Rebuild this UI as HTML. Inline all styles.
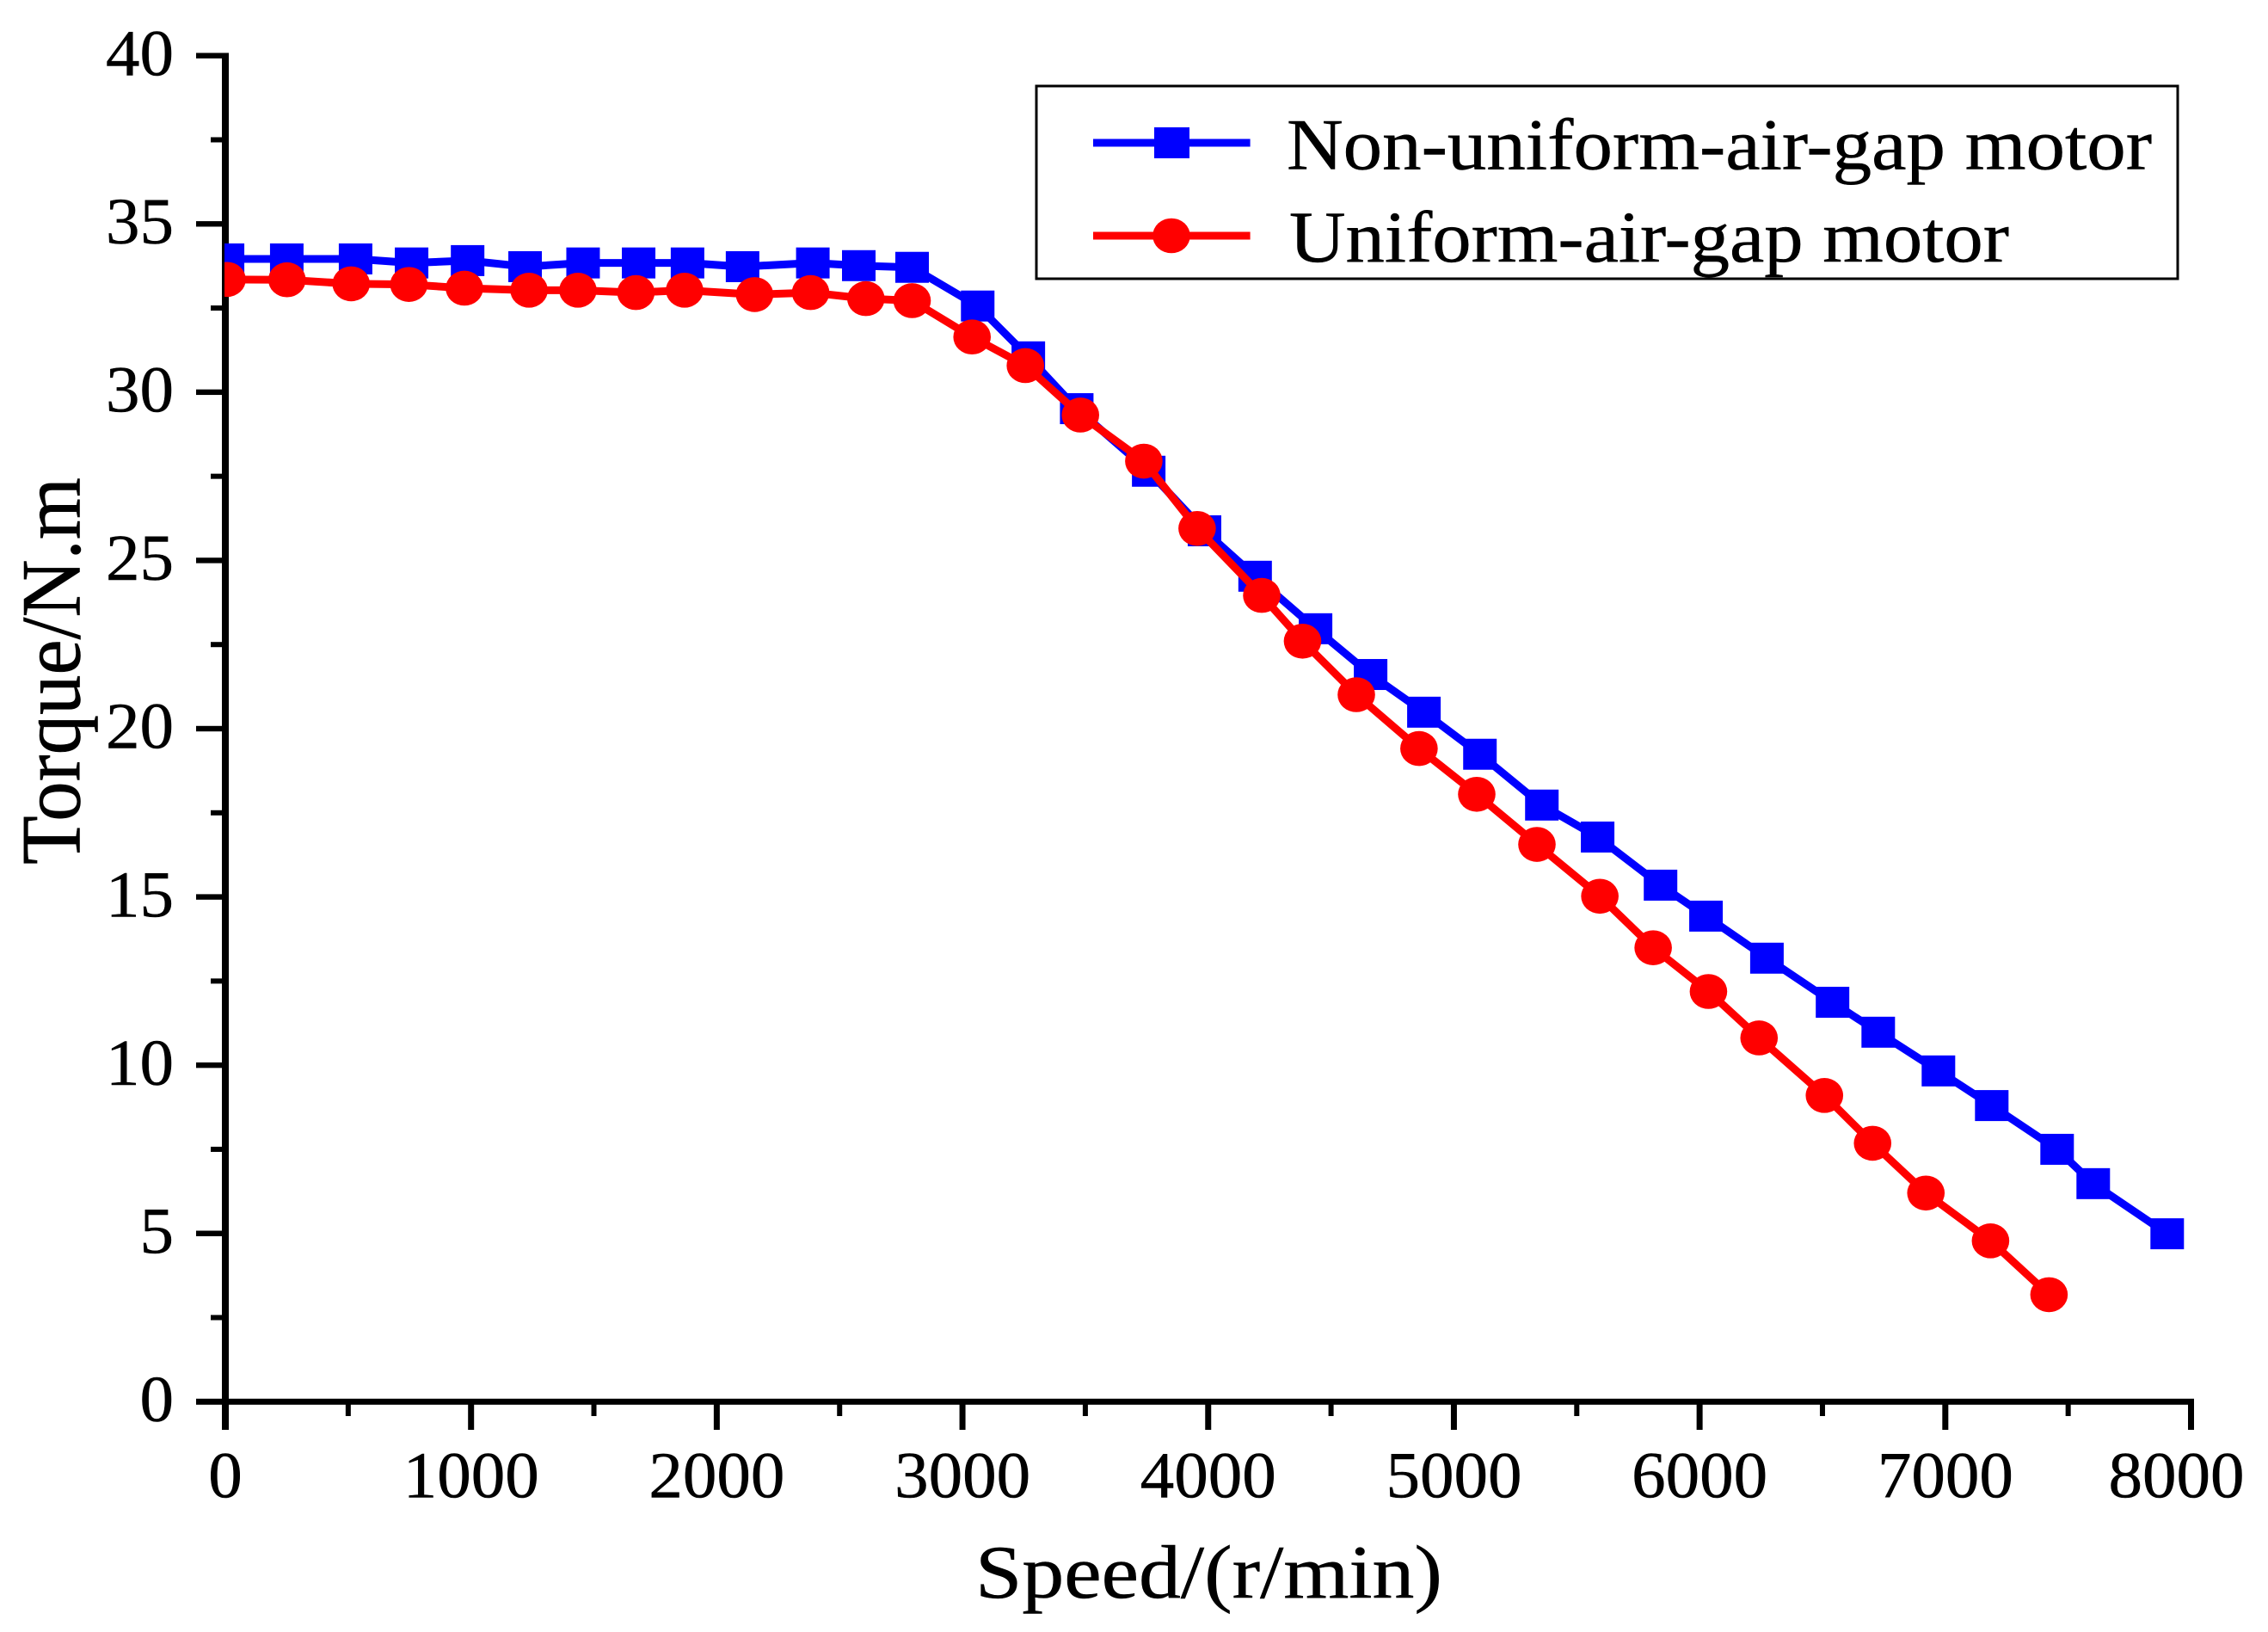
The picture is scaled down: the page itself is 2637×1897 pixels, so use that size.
<!DOCTYPE html>
<html lang="en">
<head>
<meta charset="utf-8">
<title>Torque vs Speed</title>
<style>
html,body{margin:0;padding:0;background:#fff;}
body{width:2637px;height:1897px;overflow:hidden;}
svg{display:block;}
text{font-family:"Liberation Serif","Times New Roman",serif;fill:#000;stroke:#000;stroke-width:0.5px;}
</style>
</head>
<body>
<svg id="chart" xmlns="http://www.w3.org/2000/svg" width="2637" height="1897" viewBox="0 0 2637 1897">
  <defs>
    <clipPath id="plot-clip"><rect x="261" y="0" width="2376" height="1897"/></clipPath>
  </defs>
  <rect x="0" y="0" width="2637" height="1897" fill="#fff"/>
  <g id="axes"></g>
  <g id="series" clip-path="url(#plot-clip)"></g>

  <text x="1134" y="1857" font-size="88" textLength="543" lengthAdjust="spacingAndGlyphs">Speed/(r/min)</text>
  <text transform="translate(92.7,1005) rotate(-90) scale(1,1.1)" font-size="90" textLength="450" lengthAdjust="spacingAndGlyphs">Torque/N.m</text>

  <g>
    <rect x="1205" y="100" width="1327" height="224" fill="#fff" stroke="#000" stroke-width="3"/>
    <g>
      <line x1="1271" y1="166" x2="1453.6" y2="166" stroke="#0000ff" stroke-width="9"/>
      <rect x="1342" y="148" width="41" height="36" fill="#0000ff"/>
      <text x="1496" y="196.5" font-size="85" textLength="1006" lengthAdjust="spacingAndGlyphs">Non-uniform-air-gap motor</text>
    </g>
    <g>
      <line x1="1271" y1="274" x2="1453.6" y2="274" stroke="#ff0000" stroke-width="9"/>
      <ellipse cx="1362" cy="274" rx="21.8" ry="20.3" fill="#ff0000"/>
      <text x="1499" y="304" font-size="85" textLength="837" lengthAdjust="spacingAndGlyphs">Uniform-air-gap motor</text>
    </g>
  </g>
</svg>
<script>
const xTickLabels = [0, 1000, 2000, 3000, 4000, 5000, 6000, 7000, 8000];
const yTickLabels = [0, 5, 10, 15, 20, 25, 30, 35, 40];

const nonUniformSpeed = [9, 250, 530, 758, 986, 1220, 1456, 1682, 1881, 2105, 2391, 2578, 2795, 3062, 3268, 3465, 3758, 3985, 4191, 4437, 4661, 4878, 5106, 5358, 5585, 5841, 6026, 6274, 6541, 6727, 6972, 7189, 7455, 7602, 7903];
const nonUniformTorque = [33.96, 33.96, 33.96, 33.84, 33.91, 33.73, 33.84, 33.84, 33.84, 33.73, 33.84, 33.76, 33.71, 32.56, 31.05, 29.51, 27.65, 25.88, 24.53, 22.97, 21.61, 20.49, 19.24, 17.73, 16.78, 15.35, 14.43, 13.18, 11.87, 10.98, 9.83, 8.80, 7.50, 6.48, 4.99];

const uniformSpeed = [7, 251, 512, 747, 973, 1236, 1435, 1671, 1869, 2154, 2382, 2607, 2795, 3039, 3256, 3480, 3738, 3955, 4218, 4384, 4603, 4858, 5093, 5338, 5594, 5811, 6036, 6242, 6508, 6704, 6921, 7184, 7422];
const uniformTorque = [33.35, 33.34, 33.22, 33.20, 33.09, 33.03, 33.03, 32.96, 33.03, 32.90, 32.96, 32.78, 32.72, 31.64, 30.79, 29.32, 27.95, 25.95, 23.96, 22.60, 21.01, 19.41, 18.05, 16.56, 15.02, 13.49, 12.19, 10.81, 9.10, 7.68, 6.20, 4.78, 3.18];

const SVGNS = 'http://www.w3.org/2000/svg';
const X_LEFT = 262, X_RIGHT = 2547.5, X_MAX = 8000;
const Y_BOTTOM = 1629.3, Y_TOP = 64.7, Y_MAX = 40;
function xScale(v) { return X_LEFT + (X_RIGHT - X_LEFT) * v / X_MAX; }
function yScale(v) { return Y_BOTTOM - (Y_BOTTOM - Y_TOP) * v / Y_MAX; }

function make(tag, attrs, parent) {
  const el = document.createElementNS(SVGNS, tag);
  for (const k in attrs) el.setAttribute(k, attrs[k]);
  parent.appendChild(el);
  return el;
}

const axes = document.getElementById('axes');

let el = make('rect', {x: 258, y: 61.5, width: 8, height: 1600.5, fill: '#000'}, axes);



el = make('rect', {x: 228, y: 1625.8, width: 2323, height: 7, fill: '#000'}, axes);



// x ticks
xTickLabels.forEach(function (v, i) {
  const px = xScale(v);
  const tick = make('rect', {x: px - 3.5, y: 1629, width: 7, height: 33, fill: '#000'}, axes);
  
  
  const shift = (i === xTickLabels.length - 1) ? -17 : 0;
  const label = make('text', {x: px + shift, y: 1740.5, 'font-size': 76, 'text-anchor': 'middle', textLength: String(v).length * 39.5, lengthAdjust: 'spacingAndGlyphs'}, axes);
  label.textContent = String(v);
  
  
  if (i < xTickLabels.length - 1) {
    const mid = (v + xTickLabels[i + 1]) / 2;
    const minor = make('rect', {x: xScale(mid) - 3, y: 1629, width: 6, height: 17, fill: '#000'}, axes);
    
    
  }
});

// y ticks
yTickLabels.forEach(function (v, i) {
  const py = yScale(v);
  const tick = make('rect', {x: 228, y: py - 3.2, width: 34, height: 6.4, fill: '#000'}, axes);
  
  
  const label = make('text', {x: 202, y: py + 22.7, 'font-size': 76, 'text-anchor': 'end', textLength: String(v).length * 39.5, lengthAdjust: 'spacingAndGlyphs'}, axes);
  label.textContent = String(v);
  
  
  if (i < yTickLabels.length - 1) {
    const mid = (v + yTickLabels[i + 1]) / 2;
    const minor = make('rect', {x: 245, y: yScale(mid) - 3, width: 17, height: 6, fill: '#000'}, axes);
    
    
  }
});

const seriesRoot = document.getElementById('series');

function linePoints(xs, ys) {
  return xs.map(function (x, i) { return xScale(x) + ',' + yScale(ys[i]); }).join(' ');
}

// non-uniform series (blue squares)
const blueGroup = make('g', {}, seriesRoot);


const blueLine = make('polyline', {points: linePoints(nonUniformSpeed, nonUniformTorque), fill: 'none', stroke: '#0000ff', 'stroke-width': 9, 'stroke-linejoin': 'round'}, blueGroup);


nonUniformSpeed.forEach(function (s, i) {
  const m = make('rect', {x: xScale(s) - 19.5, y: yScale(nonUniformTorque[i]) - 18, width: 39, height: 36, fill: '#0000ff'}, blueGroup);
  
  
});

// uniform series (red circles)
const redGroup = make('g', {}, seriesRoot);


const redLine = make('polyline', {points: linePoints(uniformSpeed, uniformTorque), fill: 'none', stroke: '#ff0000', 'stroke-width': 9, 'stroke-linejoin': 'round'}, redGroup);


uniformSpeed.forEach(function (s, i) {
  const m = make('ellipse', {cx: xScale(s), cy: yScale(uniformTorque[i]), rx: 21.8, ry: 20.3, fill: '#ff0000'}, redGroup);
  
  
});
</script>
</body>
</html>
